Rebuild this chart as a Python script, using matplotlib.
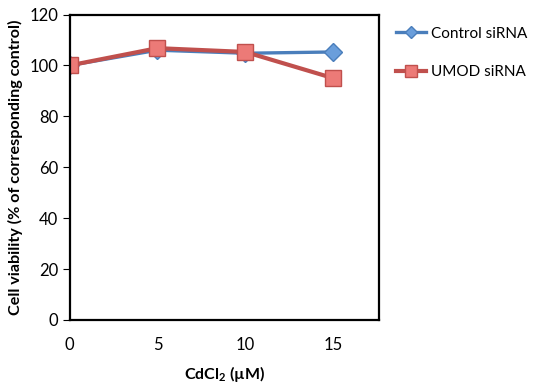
import matplotlib
matplotlib.use("Agg")
import matplotlib.pyplot as plt

plt.rcParams['font.family'] = ['Lato', 'DejaVu Sans']
plt.rcParams['mathtext.default'] = 'regular'

dose = [0, 5, 10, 15]
control = [100, 106, 104.8, 105.3]
umod = [100, 106.8, 105.3, 95]

fig = plt.figure(figsize=(5.36, 3.83), dpi=100)
ax = fig.add_axes([0.1297, 0.1645, 0.5774, 0.7975])

ax.plot(dose, control, color="#4A7EBB", lw=2.4, marker="D", ms=9,
        markerfacecolor="#6A9EDB", markeredgecolor="#4A7EBB", mew=1, label="Control siRNA")
ax.plot(dose, umod, color="#C0504D", lw=3, marker="s", ms=12,
        markerfacecolor="#EC7A77", markeredgecolor="#C0504D", mew=1, label="UMOD siRNA")

ax.set_xlim(0, 17.6)
ax.set_ylim(0, 120)
ax.set_xticks(dose)
ax.set_yticks(range(0, 121, 20))
ax.tick_params(axis='x', length=0, pad=12, labelsize=12)
ax.tick_params(axis='y', length=5, direction='out', labelsize=12, pad=3)
for s in ax.spines.values():
    s.set_linewidth(1.6)
    s.set_color("black")

ax.set_xlabel("CdCl$_2$ (\u00b5M)", fontweight='bold', fontsize=11.5, labelpad=8)
ax.set_ylabel("Cell viability (% of corresponding control)", fontweight='bold', fontsize=11.6, labelpad=5)

ax.legend(loc='upper left', bbox_to_anchor=(1.02, 0.995), frameon=False, fontsize=11,
          handlelength=2.0, labelspacing=1.6, markerscale=0.7, handletextpad=0.3,
          borderaxespad=0.3)

fig.savefig("out.png", dpi=100)
